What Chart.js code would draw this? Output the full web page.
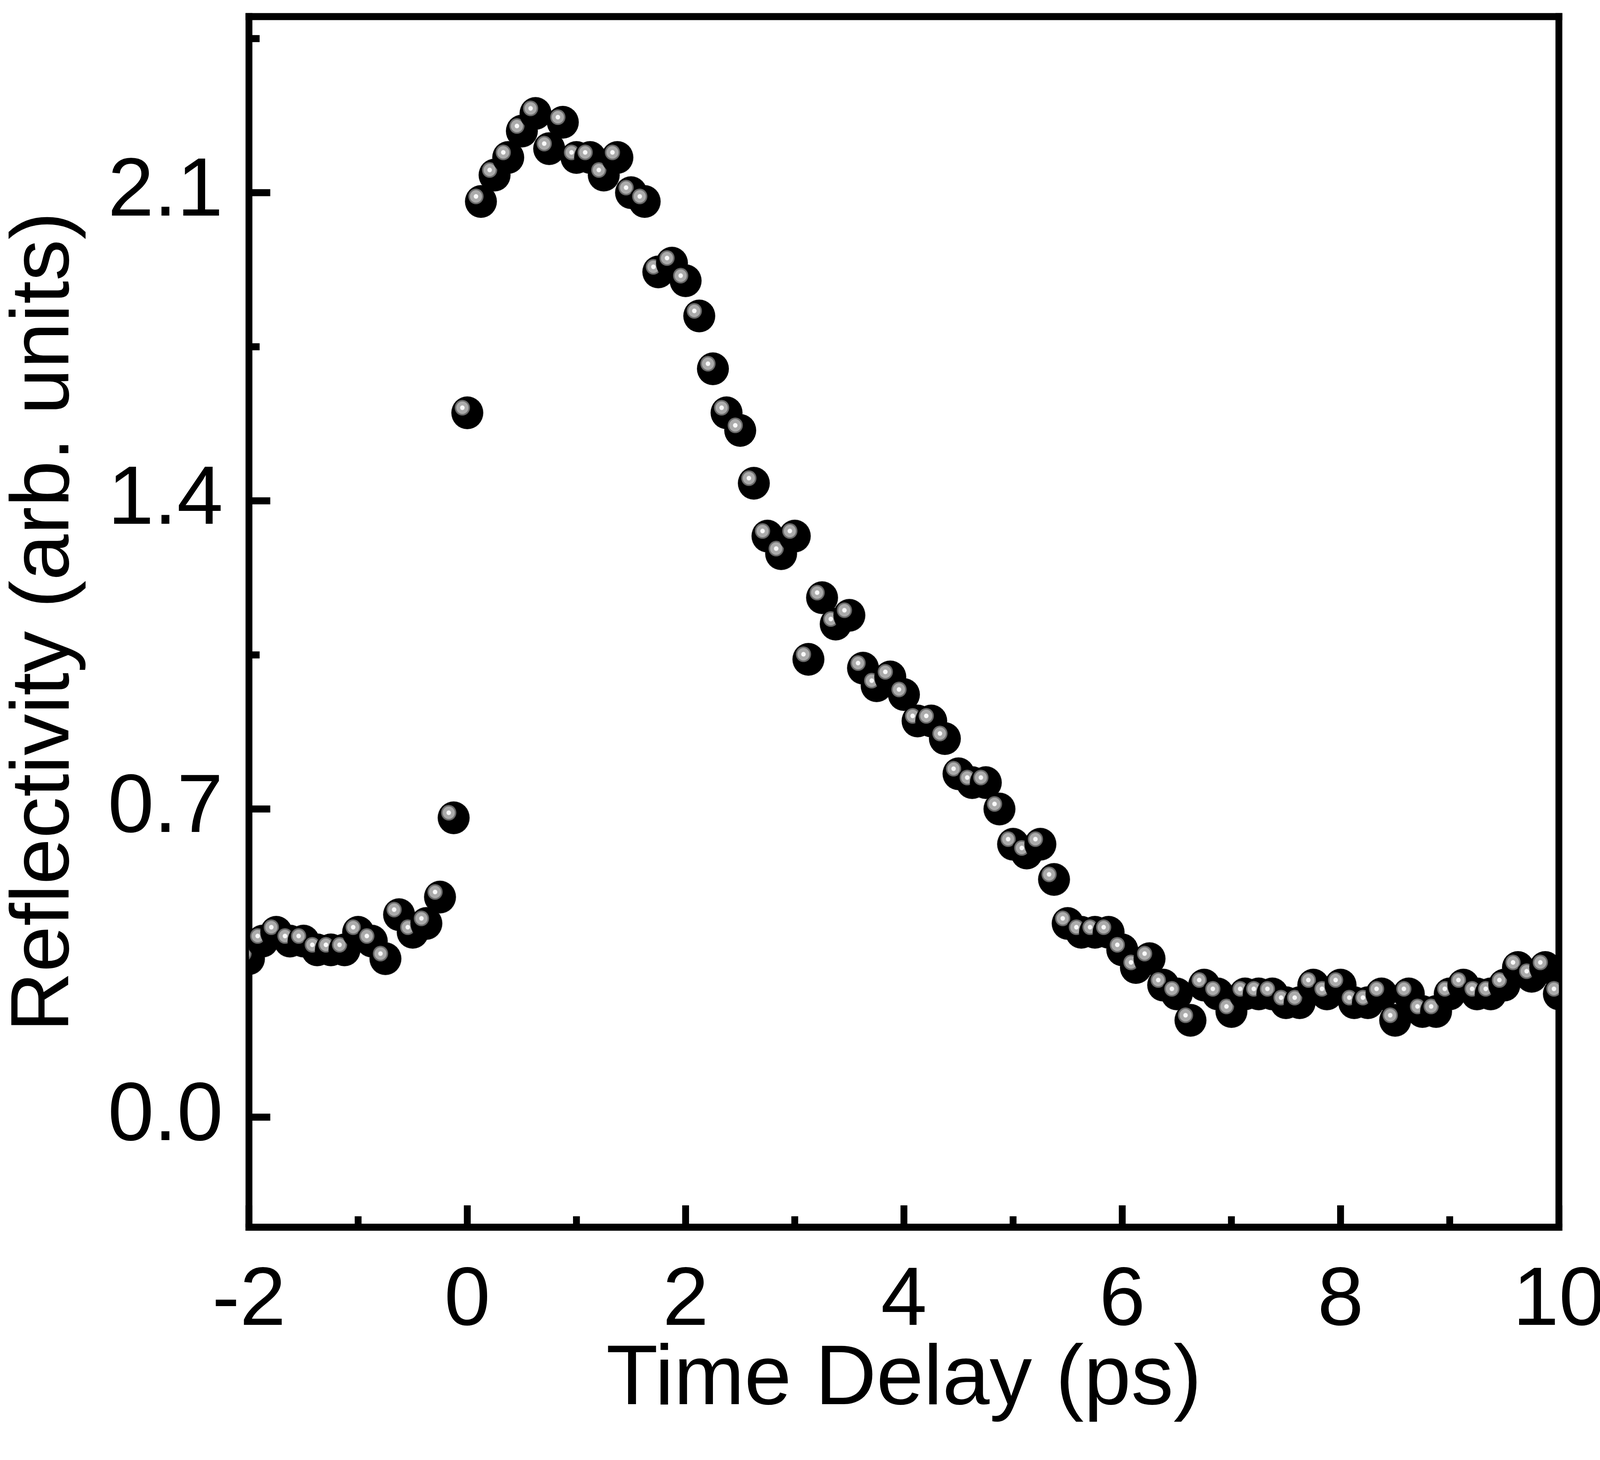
<!DOCTYPE html>
<html lang="en">
<head>
<meta charset="UTF-8">
<title>Reflectivity vs Time Delay</title>
<script src="https://cdn.jsdelivr.net/npm/chart.js"></script>
<style>
html, body {margin: 0; padding: 0; background: #fff; overflow: hidden;}
#wrap {width: 100vw; height: 100vh; position: relative;}
</style>
</head>
<body>
<div id="wrap"><canvas id="myChart"></canvas></div>

<script>
// time delay (ps) and reflectivity
const timeDelay = [
  -2.0, -1.875, -1.75, -1.625, -1.5, -1.375, -1.25, -1.125, -1.0, -0.875, -0.75, -0.625, -0.5, -0.375, -0.25, -0.125,
  0.0, 0.125, 0.25, 0.375, 0.5, 0.625, 0.75, 0.875, 1.0, 1.125, 1.25, 1.375, 1.5, 1.625, 1.75, 1.875,
  2.0, 2.125, 2.25, 2.375, 2.5, 2.625, 2.75, 2.875, 3.0, 3.125, 3.25, 3.375, 3.5, 3.625, 3.75, 3.875,
  4.0, 4.125, 4.25, 4.375, 4.5, 4.625, 4.75, 4.875, 5.0, 5.125, 5.25, 5.375, 5.5, 5.625, 5.75, 5.875,
  6.0, 6.125, 6.25, 6.375, 6.5, 6.625, 6.75, 6.875, 7.0, 7.125, 7.25, 7.375, 7.5, 7.625, 7.75, 7.875,
  8.0, 8.125, 8.25, 8.375, 8.5, 8.625, 8.75, 8.875, 9.0, 9.125, 9.25, 9.375, 9.5, 9.625, 9.75, 9.875,
  10.0
];
const reflectivity = [
  0.36, 0.40, 0.42, 0.40, 0.40, 0.38, 0.38, 0.38, 0.42, 0.40, 0.36, 0.46, 0.42, 0.44, 0.50, 0.68,
  1.60, 2.08, 2.14, 2.18, 2.24, 2.28, 2.20, 2.26, 2.18, 2.18, 2.14, 2.18, 2.10, 2.08, 1.92, 1.94,
  1.90, 1.82, 1.70, 1.60, 1.56, 1.44, 1.32, 1.28, 1.32, 1.04, 1.18, 1.12, 1.14, 1.02, 0.98, 1.00,
  0.96, 0.90, 0.90, 0.86, 0.78, 0.76, 0.76, 0.70, 0.62, 0.60, 0.62, 0.54, 0.44, 0.42, 0.42, 0.42,
  0.38, 0.34, 0.36, 0.30, 0.28, 0.22, 0.30, 0.28, 0.24, 0.28, 0.28, 0.28, 0.26, 0.26, 0.30, 0.28,
  0.30, 0.26, 0.26, 0.28, 0.22, 0.28, 0.24, 0.24, 0.28, 0.30, 0.28, 0.28, 0.30, 0.34, 0.32, 0.34,
  0.28
];

const xMajorTicks = [-2, 0, 2, 4, 6, 8, 10];
const xMinorTicks = [-1, 1, 3, 5, 7, 9];
const yMajorTicks = [0.0, 0.7, 1.4, 2.1];
const yMinorTicks = [0.35, 1.05, 1.75, 2.45];

const FONT = '"Liberation Sans", Arial, sans-serif';

// sizes are in picture pixels (4203 x 3738); the real viewport can be narrower
const KX = window.innerWidth / 4203;
const KY = window.innerHeight / 3738;
const KF = (KX + KY) / 2;
const sx = v => v * KX;
const sy = v => v * KY;
const sf = v => v * KF;

const tickFont = sf(215);
const xTitleFont = sf(220);
const yTitleFont = sf(215);

// black ball with a little grey/white highlight, like the original symbol
function makeBall(rx, ry) {
  const c = document.createElement('canvas');
  c.width = Math.ceil(2 * rx + 2);
  c.height = Math.ceil(2 * ry + 2);
  const g = c.getContext('2d');
  const mx = c.width / 2, my = c.height / 2;
  g.fillStyle = '#000';
  g.beginPath();
  g.ellipse(mx, my, rx, ry, 0, 0, Math.PI * 2);
  g.fill();
  const hx = mx - sx(13), hy = my - sy(13);
  [[20, '#6b6b6b'], [16, '#ababab'], [6, '#fafafa']].forEach(function (ring) {
    g.fillStyle = ring[1];
    g.beginPath();
    g.ellipse(hx, hy, sx(ring[0]), sy(ring[0]), 0, 0, Math.PI * 2);
    g.fill();
  });
  return c;
}

// frame + inward ticks, drawn before the points so the balls sit on top
const framePlugin = {
  id: 'frame',
  beforeDatasetsDraw(chart) {
    const ctx = chart.ctx;
    const a = chart.chartArea;
    const x = chart.scales.x, y = chart.scales.y;
    const lwx = sx(18), lwy = sy(18);
    ctx.save();
    ctx.fillStyle = '#000';
    // four sides as filled bars so the corners stay square
    ctx.fillRect(a.left - lwx / 2, a.top - lwy / 2, a.right - a.left + lwx, lwy);
    ctx.fillRect(a.left - lwx / 2, a.bottom - lwy / 2, a.right - a.left + lwx, lwy);
    ctx.fillRect(a.left - lwx / 2, a.top - lwy / 2, lwx, a.bottom - a.top + lwy);
    ctx.fillRect(a.right - lwx / 2, a.top - lwy / 2, lwx, a.bottom - a.top + lwy);
    function xTick(v, len) {
      const p = x.getPixelForValue(v);
      ctx.fillRect(p - lwx / 2, a.bottom - lwy / 2 - len, lwx, len + lwy / 2);
    }
    function yTick(v, len) {
      const p = y.getPixelForValue(v);
      ctx.fillRect(a.left, p - lwy / 2, lwx / 2 + len, lwy);
    }
    xMajorTicks.forEach(v => xTick(v, sy(47)));
    xMinorTicks.forEach(v => xTick(v, sy(19)));
    yMajorTicks.forEach(v => yTick(v, sx(47)));
    yMinorTicks.forEach(v => yTick(v, sx(19)));
    ctx.restore();
  }
};

// keep the label overhang from shrinking the plot box
function noPad(s) {
  s.paddingTop = 0;
  s.paddingBottom = 0;
  s.paddingLeft = 0;
  s.paddingRight = 0;
}

const points = timeDelay.map((t, i) => ({x: t, y: reflectivity[i]}));

const ctx = document.getElementById('myChart');
new Chart(ctx, {
  type: 'scatter',
  data: {
    datasets: [{
      label: 'Reflectivity',
      data: points,
      pointStyle: makeBall(sx(42), sy(42)),
      pointRadius: sf(42),
      showLine: false,
      clip: 0
    }]
  },
  options: {
    responsive: true,
    maintainAspectRatio: false,
    animation: false,
    layout: {padding: {left: 0, top: sy(27), right: sx(108), bottom: 0}},
    plugins: {
      legend: {display: false},
      tooltip: {enabled: false}
    },
    scales: {
      x: {
        type: 'linear',
        min: -2,
        max: 10,
        grid: {display: false, drawTicks: false},
        border: {display: false},
        afterBuildTicks: s => { s.ticks = xMajorTicks.map(v => ({value: v})); },
        afterFit: s => { s.height = sy(596); noPad(s); },
        ticks: {
          color: '#000',
          font: {family: FONT, size: tickFont},
          padding: sy(64),
          autoSkip: false,
          maxRotation: 0,
          callback: v => String(v)
        },
        title: {
          display: true,
          text: 'Time Delay (ps)',
          color: '#000',
          font: {family: FONT, size: xTitleFont, lineHeight: 1.1},
          padding: {top: 0, bottom: sy(203) - 0.55 * xTitleFont}
        }
      },
      y: {
        type: 'linear',
        min: -0.25,
        max: 2.5,
        grid: {display: false, drawTicks: false},
        border: {display: false},
        afterBuildTicks: s => { s.ticks = yMajorTicks.map(v => ({value: v})); },
        afterFit: s => { s.width = sx(654); noPad(s); },
        ticks: {
          color: '#000',
          font: {family: FONT, size: tickFont},
          padding: sx(68),
          autoSkip: false,
          callback: v => v.toFixed(1)
        },
        title: {
          display: true,
          text: 'Reflectivity (arb. units)',
          color: '#000',
          font: {family: FONT, size: yTitleFont, lineHeight: 1.1},
          padding: {top: sx(120) - 0.55 * yTitleFont, bottom: 0}
        }
      }
    }
  },
  plugins: [framePlugin]
});
</script>
</body>
</html>
